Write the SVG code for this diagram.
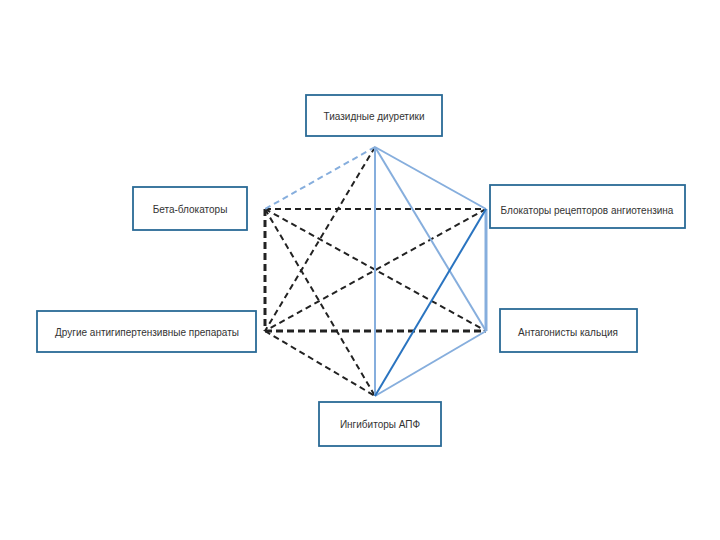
<svg xmlns="http://www.w3.org/2000/svg" width="720" height="540" viewBox="0 0 720 540">
<style>
.box{fill:#fff;stroke:#2a6a96;stroke-width:1.8}
.lbl{font-family:"Liberation Sans",Arial,sans-serif;font-size:10px;fill:#333;text-anchor:middle;dominant-baseline:central}
.dk{stroke:#222;stroke-width:2;stroke-dasharray:6,4;fill:none}
.dkb{stroke:#222;stroke-width:3;stroke-dasharray:7,4;fill:none}
.lb{stroke:#86aedd;stroke-width:2;fill:none}
.lbd{stroke:#86aedd;stroke-width:2;stroke-dasharray:6,4;fill:none}
.db{stroke:#2a74c0;stroke-width:2;fill:none}
</style>
<rect width="720" height="540" fill="#fff"/>
<g id="connectors">
<line class="dk" x1="375" y1="147" x2="265" y2="331"/>
<line class="dk" x1="265" y1="209" x2="486" y2="209"/>
<line class="dk" x1="265" y1="209" x2="486" y2="331"/>
<line class="dk" x1="265" y1="209" x2="375" y2="396"/>
<line class="dk" x1="486" y1="209" x2="265" y2="331"/>
<line class="dk" x1="265" y1="331" x2="375" y2="396"/>
<line class="dkb" x1="265" y1="209" x2="265" y2="331"/>
<line class="dkb" x1="265" y1="331" x2="486" y2="331"/>
<line class="lbd" x1="375" y1="147" x2="265" y2="209"/>
<line class="lb" x1="375" y1="147" x2="486" y2="209"/>
<line class="lb" x1="375" y1="147" x2="486" y2="331"/>
<line class="lb" x1="375" y1="147" x2="375" y2="396"/>
<line class="lb" x1="486" y1="331" x2="375" y2="396"/>
<line class="lb" x1="486" y1="209" x2="486" y2="331" style="stroke-width:3"/>
<line class="db" x1="486" y1="209" x2="375" y2="396"/>
</g>
<g id="n-thiazide"><rect class="box" x="306" y="95" width="136" height="41"/><text class="lbl" x="374" y="116">Тиазидные диуретики</text></g>
<g id="n-beta"><rect class="box" x="133" y="187" width="114" height="43"/><text class="lbl" x="190" y="209">Бета-блокаторы</text></g>
<g id="n-arb"><rect class="box" x="490" y="185" width="195" height="43"/><text class="lbl" x="587" y="210">Блокаторы рецепторов ангиотензина</text></g>
<g id="n-other"><rect class="box" x="37" y="311" width="219" height="41"/><text class="lbl" x="147" y="332">Другие антигипертензивные препараты</text></g>
<g id="n-calcium"><rect class="box" x="500" y="309" width="137" height="43"/><text class="lbl" x="568" y="332">Антагонисты кальция</text></g>
<g id="n-ace"><rect class="box" x="319" y="402" width="122" height="44"/><text class="lbl" x="380" y="424">Ингибиторы АПФ</text></g>
</svg>
